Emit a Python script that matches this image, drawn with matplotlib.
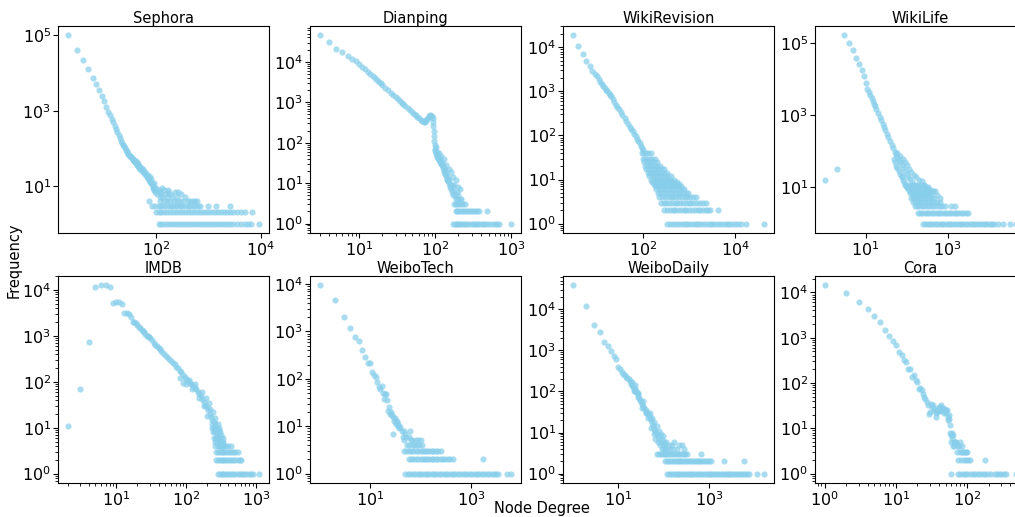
import matplotlib
matplotlib.use("Agg")
import matplotlib.pyplot as plt
from matplotlib.ticker import FixedLocator, LogFormatterSciNotation, LogLocator, NullLocator

# ---- Sephora ----
sephora_deg = [2, 3, 4, 5, 6, 7, 8, 9, 10, 11, 12, 13, 14, 15, 16, 17, 18, 19, 20, 21,
               22, 23, 24, 25, 26, 27, 28, 29, 30, 31, 32, 33, 34, 35, 36, 37, 38, 39, 40,
               41, 42, 43, 44, 45, 46, 47, 48, 49, 50, 52, 54, 56, 58, 60, 62, 64, 66, 68,
               70, 72, 74, 76, 78, 80, 83, 86, 89, 92, 95]
sephora_freq = [100000, 42000, 22000, 12500, 7600, 5000, 3500, 2500, 1800, 1260, 950,
                760, 610, 500, 400, 330, 270, 225, 190, 160, 140, 125, 112, 100, 92, 85,
                78, 72, 68, 64, 61, 58, 55, 52, 50, 48, 45, 43, 41, 47, 38, 36, 40, 34, 30,
                33, 31, 28, 30, 26, 25, 28, 22, 21, 24, 19, 17, 20, 16, 14, 17, 13, 12, 15,
                11, 10, 12, 9, 8]
sephora_levels = [9, 8, 7, 6, 5, 4, 3, 2, 1]
sephora_rows = [
    [85, 100, 130],
    [90, 110, 140, 170],
    [95, 120, 170, 230, 260],
    [105, 125, 150, 190, 300],
    [115, 130, 160, 200, 250, 360],
    [72, 120, 140, 160, 180, 215, 250, 290, 330, 400, 450, 500, 560, 600],
    [84, 95, 110, 125, 140, 160, 180, 200, 225, 250, 280, 310, 350, 400, 450, 500,
     560, 620, 680, 980, 1400, 2600],
    [97, 110, 125, 140, 160, 180, 205, 235, 270, 310, 350, 400, 460, 520, 600, 680,
     780, 900, 1000, 1150, 1300, 1500, 1700, 2000, 2300, 2600, 3000, 3500, 4200, 5000, 6700],
    [112, 125, 140, 160, 180, 205, 235, 270, 310, 350, 400, 460, 520, 600, 680, 780,
     900, 1000, 1150, 1300, 1500, 1700, 2000, 2300, 2600, 3000, 3500, 4200, 5000, 5800,
     6500, 9400],
]

# ---- Dianping ----
dianping_deg = [3, 4, 5, 6, 7, 8, 9, 10, 11, 12, 13, 14, 15, 16, 17, 18, 19, 20, 22, 24,
                26, 28, 30, 32, 34, 36, 38, 40, 43, 46, 49, 52, 55, 58, 61, 64, 67, 70, 72,
                74, 76, 78, 80, 82, 84, 86, 88, 90, 92, 93, 94, 95, 96, 97, 98, 99, 100,
                101, 102, 104, 105, 106, 108, 110, 112, 113, 115, 117, 119, 121, 123, 125,
                127, 129, 131, 133, 135, 137, 139, 141, 143, 145, 147, 150, 152, 155, 158,
                160, 163, 166, 170, 173, 177, 180, 185, 190, 195, 200, 210, 220,
                113, 120, 131, 140, 150, 159, 170, 176, 185, 200, 210]
dianping_freq = [45000, 30500, 21000, 17600, 13800, 11800, 10200, 8900, 7570, 6510, 5680,
                 5000, 4440, 3970, 3580, 3240, 2950, 2710, 2300, 1980, 1720, 1520, 1350,
                 1210, 1090, 985, 900, 820, 725, 645, 580, 520, 475, 430, 400, 370, 345,
                 330, 325, 335, 360, 390, 420, 450, 470, 480, 470, 450, 400, 330, 260, 200,
                 150, 112, 90, 70, 62, 80, 53, 58, 45, 50, 42, 38, 45, 40, 33, 36, 30, 28,
                 32, 24, 26, 21, 19, 22, 17, 15, 18, 13, 12, 14, 11, 10, 12, 9, 8, 7, 9, 6,
                 8, 5, 6, 5, 4, 6, 4, 5, 4, 4,
                 57, 48, 40, 28, 22, 19, 14, 9, 12, 8, 7]
dianping_levels = [3, 2, 1]
dianping_rows = [
    [175, 185, 195, 205, 215, 230, 245],
    [185, 195, 205, 215, 230, 245, 260, 275, 290, 310, 330, 350, 370, 480],
    [171, 180, 190, 200, 212, 225, 240, 255, 270, 290, 310, 330, 355, 380, 410, 440,
     470, 510, 550, 600, 650, 690, 1000],
]

# ---- WikiRevision ----
wikirev_deg = [3, 4, 5, 6, 7, 8, 9, 10, 11, 12, 13, 14, 15, 16, 17, 18, 19, 20, 22, 24,
               26, 28, 30, 33, 36, 40, 44, 48, 52, 56, 60, 65, 70, 75, 80, 85, 90, 95, 100]
wikirev_freq = [18700, 10500, 7000, 5000, 3800, 2950, 2450, 2200, 1900, 1650, 1450, 1300,
                1180, 1080, 1000, 920, 840, 770, 660, 570, 500, 440, 390, 335, 290, 245,
                210, 180, 158, 140, 125, 110, 96, 85, 75, 66, 58, 52, 47]
wikirev_levels = [40, 30, 25, 20, 17, 14, 12, 10, 9, 8, 7, 6, 5, 4, 3, 2, 1]
wikirev_rows = [
    [95, 105, 115, 130, 150],
    [100, 112, 125, 140, 160, 180],
    [105, 120, 135, 150, 170, 200],
    [110, 125, 140, 160, 180, 205, 240],
    [115, 130, 150, 170, 195, 225, 260, 280],
    [126, 145, 165, 190, 215, 250, 290, 340],
    [135, 155, 175, 200, 230, 265, 300, 350, 400],
    [150, 170, 195, 225, 260, 300, 345, 400, 480],
    [160, 185, 210, 240, 280, 320, 370, 430, 540],
    [170, 195, 225, 260, 300, 345, 400, 460, 530, 600],
    [185, 210, 240, 280, 320, 370, 430, 500, 570, 660],
    [195, 225, 260, 300, 345, 400, 460, 530, 610, 700, 780],
    [208, 240, 275, 320, 370, 430, 490, 570, 650, 750, 850, 930],
    [225, 260, 300, 345, 400, 460, 530, 610, 700, 800, 920, 1050, 1200, 1400],
    [245, 280, 320, 370, 430, 490, 560, 650, 750, 860, 990, 1130, 1300, 1500, 1750,
     2000, 2300],
    [290, 330, 380, 440, 500, 580, 660, 760, 880, 1000, 1150, 1330, 1530, 1760, 2000,
     2300, 2600, 2850, 4150],
    [340, 390, 450, 520, 600, 690, 800, 920, 1050, 1200, 1400, 1600, 1850, 2100, 2450,
     2800, 3200, 3700, 4300, 4900, 5600, 6500, 7500, 8600, 9900, 11500, 13300, 17200, 43000],
]

# ---- WikiLife ----
wikilife_deg = [1, 2, 3, 4, 5, 6, 7, 8, 9, 10, 11, 12, 13, 14, 15, 16, 17, 18, 20, 22, 24,
                26, 28, 30, 33, 36, 40, 44, 48, 52, 56, 60, 65, 70, 76, 82, 90, 100, 110,
                120, 135, 150,
                50, 52, 56, 60, 65, 70, 76, 78, 80, 85, 90, 100, 110, 120, 132,
                60, 70, 80, 91, 100, 115, 130, 150, 170, 200, 233, 260, 300, 350, 420, 490,
                550, 650]
wikilife_freq = [16, 32, 160000, 100000, 63000, 39000, 26000, 17200, 12000, 7900, 5400,
                 4300, 3500, 2880, 2400, 2030, 1740, 1500, 1140, 890, 710, 580, 480, 400,
                 310, 250, 190, 150, 120, 98, 82, 70, 58, 49, 41, 35, 29, 24, 20, 17, 14, 12,
                 60, 49, 40, 35, 28, 24, 21, 19, 16, 14, 12, 10, 9, 7, 5,
                 90, 75, 62, 49, 42, 33, 27, 22, 19, 16, 15, 12, 10, 9, 8, 8, 6, 5]
wikilife_levels = [12, 10, 8, 7, 6, 5, 4, 3, 2, 1]
wikilife_rows = [
    [95, 115, 135, 160, 190, 230, 270],
    [105, 125, 150, 175, 205, 240, 290, 340],
    [120, 140, 165, 195, 230, 270, 320, 380, 450],
    [145, 165, 190, 220, 260, 300, 350],
    [140, 160, 185, 215, 250, 290, 340, 400],
    [140, 160, 180, 205, 235, 270, 310, 360, 420, 480],
    [140, 160, 180, 205, 235, 270, 310, 360, 420, 480, 560, 650],
    [160, 180, 205, 235, 270, 310, 360, 420, 480, 560, 650, 750, 850, 1250, 1500],
    [187, 210, 240, 275, 315, 360, 410, 470, 540, 620, 710, 810, 930, 1060, 1220, 1400,
     1600, 1830, 2100, 2400, 2750, 3200],
    [255, 290, 330, 380, 430, 490, 560, 640, 730, 840, 960, 1100, 1250, 1430, 1640, 1870,
     2140, 2450, 2800, 3200, 3650, 4200, 4800, 5500, 6300, 7200, 8200, 9400, 10700, 12300,
     14000, 17000, 23000, 33000, 48000],
]

# ---- IMDB ----
imdb_deg = [2, 3, 4, 5, 6, 7, 8, 9, 10, 11, 12, 13, 14, 15, 16, 17, 18, 19, 20, 21, 22, 23,
            24, 25, 26, 27, 28, 29, 30, 32, 34, 36, 38, 40, 42, 44, 47, 50, 53, 56, 60, 64,
            68, 72, 76, 80, 85, 90, 95, 100, 106, 112, 118, 124, 131, 138, 145, 152, 160,
            168, 176, 185, 195, 205, 215, 225, 235, 245, 255, 265, 275, 285, 295, 305, 316,
            82, 90, 100, 110, 120, 135, 150, 170, 180, 190, 200, 210, 220, 230, 240, 250,
            260, 270, 280, 290, 300, 310, 320, 330]
imdb_freq = [11, 70, 720, 11400, 12600, 12600, 11400, 5100, 5600, 5600, 5000, 3100, 3100,
             3000, 2550, 2000, 2000, 1900, 1750, 1600, 1500, 1350, 1250, 1200, 1100, 1020,
             980, 930, 880, 800, 700, 640, 590, 540, 510, 475, 420, 380, 340, 310, 280, 255,
             240, 215, 195, 175, 160, 140, 126, 118, 105, 95, 88, 80, 75, 68, 60, 55, 48,
             42, 36, 32, 28, 24, 20, 17, 15, 13, 12, 10, 8, 7, 6, 5, 4,
             120, 95, 90, 110, 70, 90, 45, 60, 30, 45, 18, 35, 25, 12, 22, 9, 16, 6, 12, 9,
             4, 7, 5, 4]
imdb_levels = [10, 8, 6, 5, 4, 3, 2, 1]
imdb_rows = [
    [230, 250, 270, 290],
    [240, 260, 280, 300],
    [250, 270, 290, 310, 330],
    [255, 275, 300, 320, 340],
    [260, 280, 300, 320, 345, 370, 400, 435],
    [268, 285, 300, 320, 340, 360, 385, 410, 440, 470, 500, 550],
    [268, 285, 300, 320, 340, 360, 385, 410, 440, 470, 500, 540, 580, 610],
    [283, 300, 320, 340, 360, 385, 410, 440, 470, 500, 540, 580, 620, 670, 720, 780,
     840, 890, 1110],
]

# ---- WeiboTech ----
weibotech_deg = [1, 2, 3, 4, 5, 6, 7, 8, 9, 10, 11, 12, 13, 14, 15, 16, 17, 18, 19, 20, 21,
                 22, 23, 24, 25, 26, 27, 28, 29, 30, 31, 32, 33, 34, 35, 36, 38, 40, 42, 44,
                 46, 48, 50, 52, 55, 58, 60, 63, 65, 68, 70, 75, 80, 85, 90, 95, 100, 105]
weibotech_freq = [9400, 4600, 2000, 1180, 750, 620, 415, 290, 220, 220, 143, 118, 110, 87,
                  66, 62, 72, 50, 38, 47, 48, 36, 21, 25, 18, 20, 17, 16, 7, 13, 15, 11, 12,
                  13, 10, 11, 9, 9.5, 8, 6, 8, 5, 7, 6, 4, 6, 4, 8, 5, 5, 4, 4, 5, 4, 5, 4,
                  5, 4]
weibotech_levels = [3, 2, 1]
weibotech_rows = [
    [46, 52, 58, 65, 72, 80, 90, 100, 110, 120, 135, 150, 165, 180, 200, 225, 250],
    [58, 65, 72, 80, 90, 100, 110, 120, 135, 150, 165, 180, 200, 225, 250, 280, 310, 350,
     390, 430, 1700],
    [50, 56, 63, 70, 78, 87, 97, 108, 120, 135, 150, 165, 185, 205, 230, 255, 285, 320, 355,
     395, 440, 490, 550, 610, 680, 760, 850, 950, 1060, 1180, 1320, 1470, 1640, 1830, 2050,
     2300, 2550, 2850, 3150, 3400, 5200, 6300],
]

# ---- WeiboDaily ----
weibodaily_deg = [1, 2, 3, 4, 5, 6, 7, 8, 9, 10, 11, 12, 13, 14, 15, 16, 17, 18, 19, 20, 21,
                  22, 23, 24, 25, 26, 27, 28, 29, 30, 32, 34, 36, 38, 40, 42, 44, 46, 48, 50,
                  52, 55, 58, 61, 65, 68, 72, 76, 80, 85, 90, 95, 100, 105, 110,
                  20, 22, 24, 28, 33, 36, 40, 45, 50, 52, 56, 60, 62, 66, 70, 74, 78, 82, 88,
                  92, 96, 100, 115, 120, 130, 140, 150, 160, 170, 200, 220, 255, 280]
weibodaily_freq = [38000, 12000, 4100, 2800, 1600, 1250, 950, 720, 600, 400, 360, 300, 270,
                   250, 225, 210, 200, 180, 150, 140, 130, 120, 115, 105, 100, 90, 85, 75,
                   68, 62, 55, 50, 44, 40, 36, 32, 30, 28, 26, 22, 20, 17, 14, 12, 11, 10, 9,
                   8, 7, 6, 7, 5, 6, 5, 4,
                   170, 100, 140, 90, 40, 60, 30, 22, 30, 13, 22, 9, 18, 7, 14, 6, 11, 5, 9,
                   4, 8, 4, 6, 4, 5, 4, 5, 4, 6, 4, 5, 5, 4]
weibodaily_levels = [3, 2, 1]
weibodaily_rows = [
    [71, 78, 86, 95, 105, 115, 127, 140, 155, 170, 188, 207, 228, 250, 275, 300, 330, 650],
    [109, 120, 132, 145, 160, 176, 194, 213, 235, 258, 285, 313, 345, 380, 418, 460, 506,
     557, 613, 675, 740, 815, 900, 1000, 1100, 2150, 5700],
    [119, 131, 144, 158, 174, 192, 211, 232, 255, 280, 310, 340, 375, 410, 450, 500, 550,
     600, 660, 730, 800, 880, 970, 1070, 1180, 1300, 1430, 1570, 1730, 1900, 2100, 2300,
     2550, 2800, 3100, 3400, 3750, 4100, 4500, 5000, 5500, 6100, 6800, 7700, 11000, 16400],
]

# ---- Cora ----
cora_deg = [1, 2, 3, 4, 5, 6, 7, 8, 9, 10, 11, 12, 13, 14, 15, 16, 17, 18, 19, 20, 21, 22,
            23, 24, 25, 26, 27, 28, 29, 30, 31, 32, 33, 34, 35, 36, 37, 38, 39, 40, 41, 42,
            43, 44, 45, 46, 47, 48, 49, 50, 51, 52, 53, 54, 55, 56, 57, 58, 59, 60, 61, 62,
            63, 64, 65, 66, 68, 70, 74, 76, 80, 85]
cora_freq = [14300, 9700, 6300, 4300, 3000, 2200, 1500, 1100, 830, 690, 490, 425, 315, 285,
             205, 205, 134, 148, 115, 104, 74, 78, 69, 56, 49, 45, 38, 32, 21, 23, 35, 30,
             32, 25, 27, 22, 18, 23, 26, 29, 24, 30, 32, 26, 25, 28, 22, 27, 24, 22, 26, 25,
             15, 18, 16, 20, 12, 8, 7, 5, 8, 6, 4, 7, 5, 4, 5, 5, 4, 4, 5, 4]
cora_levels = [3, 2, 1]
cora_rows = [
    [72, 78, 84, 87, 92, 95, 100],
    [75, 82, 90, 97, 104, 108, 176],
    [60, 74, 80, 86, 93, 100, 108, 121, 130, 140, 150, 167, 180, 195, 215, 242, 260, 280,
     300, 330, 355, 490],
]

# labelled decades (exponents) on each axis, as in the original figure
panels = [
    ("Sephora", sephora_deg, sephora_freq, sephora_levels, sephora_rows, [2, 4], [1, 3, 5]),
    ("Dianping", dianping_deg, dianping_freq, dianping_levels, dianping_rows,
     [1, 2, 3], [0, 1, 2, 3, 4]),
    ("WikiRevision", wikirev_deg, wikirev_freq, wikirev_levels, wikirev_rows,
     [2, 4], [0, 1, 2, 3, 4]),
    ("WikiLife", wikilife_deg, wikilife_freq, wikilife_levels, wikilife_rows,
     [1, 3], [1, 3, 5]),
    ("IMDB", imdb_deg, imdb_freq, imdb_levels, imdb_rows, [1, 2, 3], [0, 1, 2, 3, 4]),
    ("WeiboTech", weibotech_deg, weibotech_freq, weibotech_levels, weibotech_rows,
     [1, 3], [0, 1, 2, 3, 4]),
    ("WeiboDaily", weibodaily_deg, weibodaily_freq, weibodaily_levels, weibodaily_rows,
     [1, 3], [0, 1, 2, 3, 4]),
    ("Cora", cora_deg, cora_freq, cora_levels, cora_rows, [0, 1, 2], [0, 1, 2, 3, 4]),
]

W, H = 1015, 517
col_left = [58, 310, 563, 815]   # px, 4th column runs past the right edge
row_bottom = [233, 483]
ax_w, ax_h = 211, 207


def set_log_ticks(axis, exps):
    axis.set_major_locator(FixedLocator([10.0 ** e for e in exps]))
    axis.set_major_formatter(LogFormatterSciNotation())
    if len(exps) > 1 and exps[1] - exps[0] == 1:
        axis.set_minor_locator(LogLocator(base=10, subs=range(2, 10), numticks=50))
    else:
        axis.set_minor_locator(NullLocator())


def draw(ax, title, deg, freq, levels, rows, xt, yt):
    x = list(deg)
    y = list(freq)
    for f, ds in zip(levels, rows):
        x += ds
        y += [f] * len(ds)
    ax.scatter(x, y, s=20, color="skyblue", alpha=0.7, linewidths=0)
    ax.set_xscale("log")
    ax.set_yscale("log")
    set_log_ticks(ax.xaxis, xt)
    set_log_ticks(ax.yaxis, yt)
    ax.set_title(title, fontsize=10.5, pad=2.5)
    ax.tick_params(labelsize=11.5, pad=1.5)


fig = plt.figure(figsize=(W / 100, H / 100), dpi=100)
for i, (title, deg, freq, levels, rows, xt, yt) in enumerate(panels):
    r, c = divmod(i, 4)
    ax = fig.add_axes([col_left[c] / W, 1 - row_bottom[r] / H, ax_w / W, ax_h / H])
    draw(ax, title, deg, freq, levels, rows, xt, yt)

fig.text(14 / W, 1 - 260 / H, "Frequency", rotation=90, ha="center", va="center",
         fontsize=10.5)
fig.text(542 / W, 1 - 508 / H, "Node Degree", ha="center", va="center", fontsize=10.5)

fig.savefig("out.png", dpi=100)
plt.close(fig)
